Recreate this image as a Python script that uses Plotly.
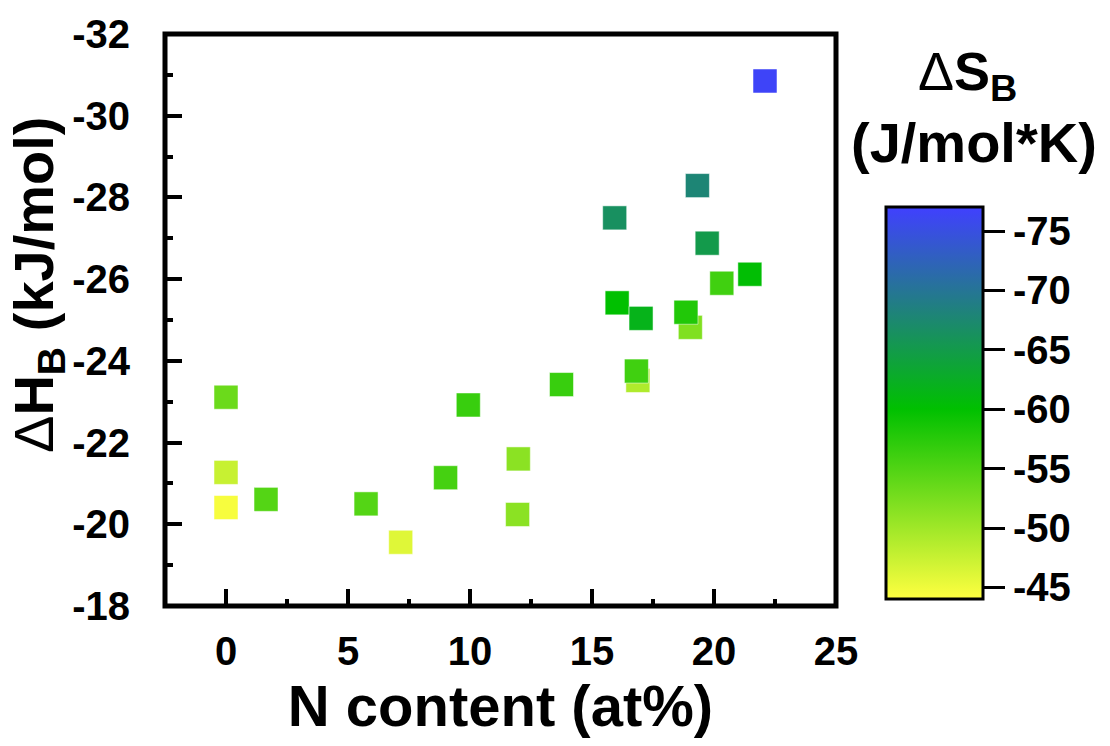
import plotly.graph_objects as go

# N content (at%)
n_content = [0.0, 0.0, 0.0, 1.64, 5.74, 7.16, 9.0, 9.93, 11.98, 11.95, 13.75,
             16.03, 17.01, 16.88, 16.82, 19.03, 18.85, 20.32, 21.47, 19.72,
             15.93, 19.32, 22.09]
# Delta H_B (kJ/mol)
dH = [-23.11, -21.27, -20.41, -20.61, -20.50, -19.56, -21.14, -22.92, -21.60,
      -20.24, -23.42, -25.42, -25.04, -23.52, -23.75, -24.82, -25.19, -25.90,
      -26.12, -26.88, -27.50, -28.29, -30.85]
# Delta S_B (J/mol*K)
dS = [-53.3, -47.5, -44.5, -54.7, -54.7, -46.0, -55.7, -56.5, -51.3, -51.3,
      -56.5, -60.0, -61.7, -49.0, -56.0, -52.0, -57.9, -56.0, -60.3, -65.0,
      -66.4, -67.8, -76.5]

cb_ticks = [-45, -50, -55, -60, -65, -70, -75]
x_ticks = [0, 5, 10, 15, 20, 25]
y_ticks = [-32, -30, -28, -26, -24, -22, -20, -18]

FONT = "Liberation Sans, Arial, sans-serif"
L, R, T, B = 164.5, 836.5, 29.5, 606.5
W, H = 1110, 746

def px_x(p):
    return (p - L) / (R - L)

def px_y(p):
    return (B - p) / (B - T)

cmin, cmax = 44, 77
colorscale = [
    [0.0, "#ffff40"],
    [(60 - cmin) / (cmax - cmin), "#00c000"],
    [1.0, "#4040ff"],
]

fig = go.Figure()
fig.add_trace(go.Scatter(
    x=n_content, y=dH, mode="markers",
    marker=dict(
        symbol="square", size=24,
        color=[-v for v in dS], cmin=cmin, cmax=cmax,
        colorscale=colorscale,
        line=dict(width=1, color="rgba(255,255,255,0.5)"),
        colorbar=dict(
            x=px_x(886.7), xanchor="left", xpad=0, ypad=0,
            y=px_y(402), yanchor="middle",
            thickness=97, thicknessmode="pixels",
            len=392, lenmode="pixels",
            outlinewidth=3, outlinecolor="black",
            tickvals=[-v for v in cb_ticks], ticktext=[f"<b>{v}</b>" for v in cb_ticks],
            ticks="outside", ticklen=21, tickwidth=3, tickcolor="black",
            tickfont=dict(family=FONT, size=40, color="black"),
        ),
    ),
    showlegend=False,
))

axis_common = dict(
    showgrid=False, zeroline=False, showline=False,
    ticks="inside", tickwidth=4, tickcolor="black", ticklen=17,
    tickfont=dict(family=FONT, size=40, color="black"),
)

fig.update_xaxes(
    range=[-2.5, 25], tickvals=x_ticks, ticktext=[f"<b>{v}</b>" for v in x_ticks],
    minor=dict(dtick=2.5, tick0=0, ticks="inside", ticklen=7, tickwidth=4, tickcolor="black"),
    ticklabelstandoff=18,
    title=dict(text="<b>N content (at%)</b>", font=dict(family=FONT, size=58, color="black"), standoff=4),
    **axis_common,
)
fig.update_yaxes(
    range=[-18, -32], tickvals=y_ticks, ticktext=[f"<b>{v}</b>" for v in y_ticks],
    minor=dict(dtick=1, tick0=0, ticks="inside", ticklen=8, tickwidth=4, tickcolor="black"),
    ticklabelstandoff=34,
    **axis_common,
)

fig.add_shape(type="rect", xref="paper", yref="paper", x0=0, x1=1, y0=0, y1=1,
              line=dict(color="black", width=5), fillcolor="rgba(0,0,0,0)", layer="above")

fig.add_annotation(
    text="Δ<b>H<sub>B</sub> (kJ/mol)</b>",
    xref="paper", yref="paper", x=px_x(37), y=px_y(283),
    xanchor="center", yanchor="middle", textangle=-90, showarrow=False,
    font=dict(family=FONT, size=56, color="black"),
)
fig.add_annotation(
    text="Δ<b>S<sub>B</sub></b>",
    xref="paper", yref="paper", x=px_x(968), y=px_y(71),
    xanchor="center", yanchor="middle", showarrow=False,
    font=dict(family=FONT, size=54, color="black"),
)
fig.add_annotation(
    text="<b>(J/mol*K)</b>",
    xref="paper", yref="paper", x=px_x(975), y=px_y(139),
    xanchor="center", yanchor="middle", showarrow=False,
    font=dict(family=FONT, size=56, color="black"),
)

fig.update_layout(
    width=W, height=H,
    margin=dict(l=L, r=W - R, t=T, b=H - B),
    paper_bgcolor="white", plot_bgcolor="white",
    font=dict(family=FONT, color="black"),
)

fig.write_html("out.html")
